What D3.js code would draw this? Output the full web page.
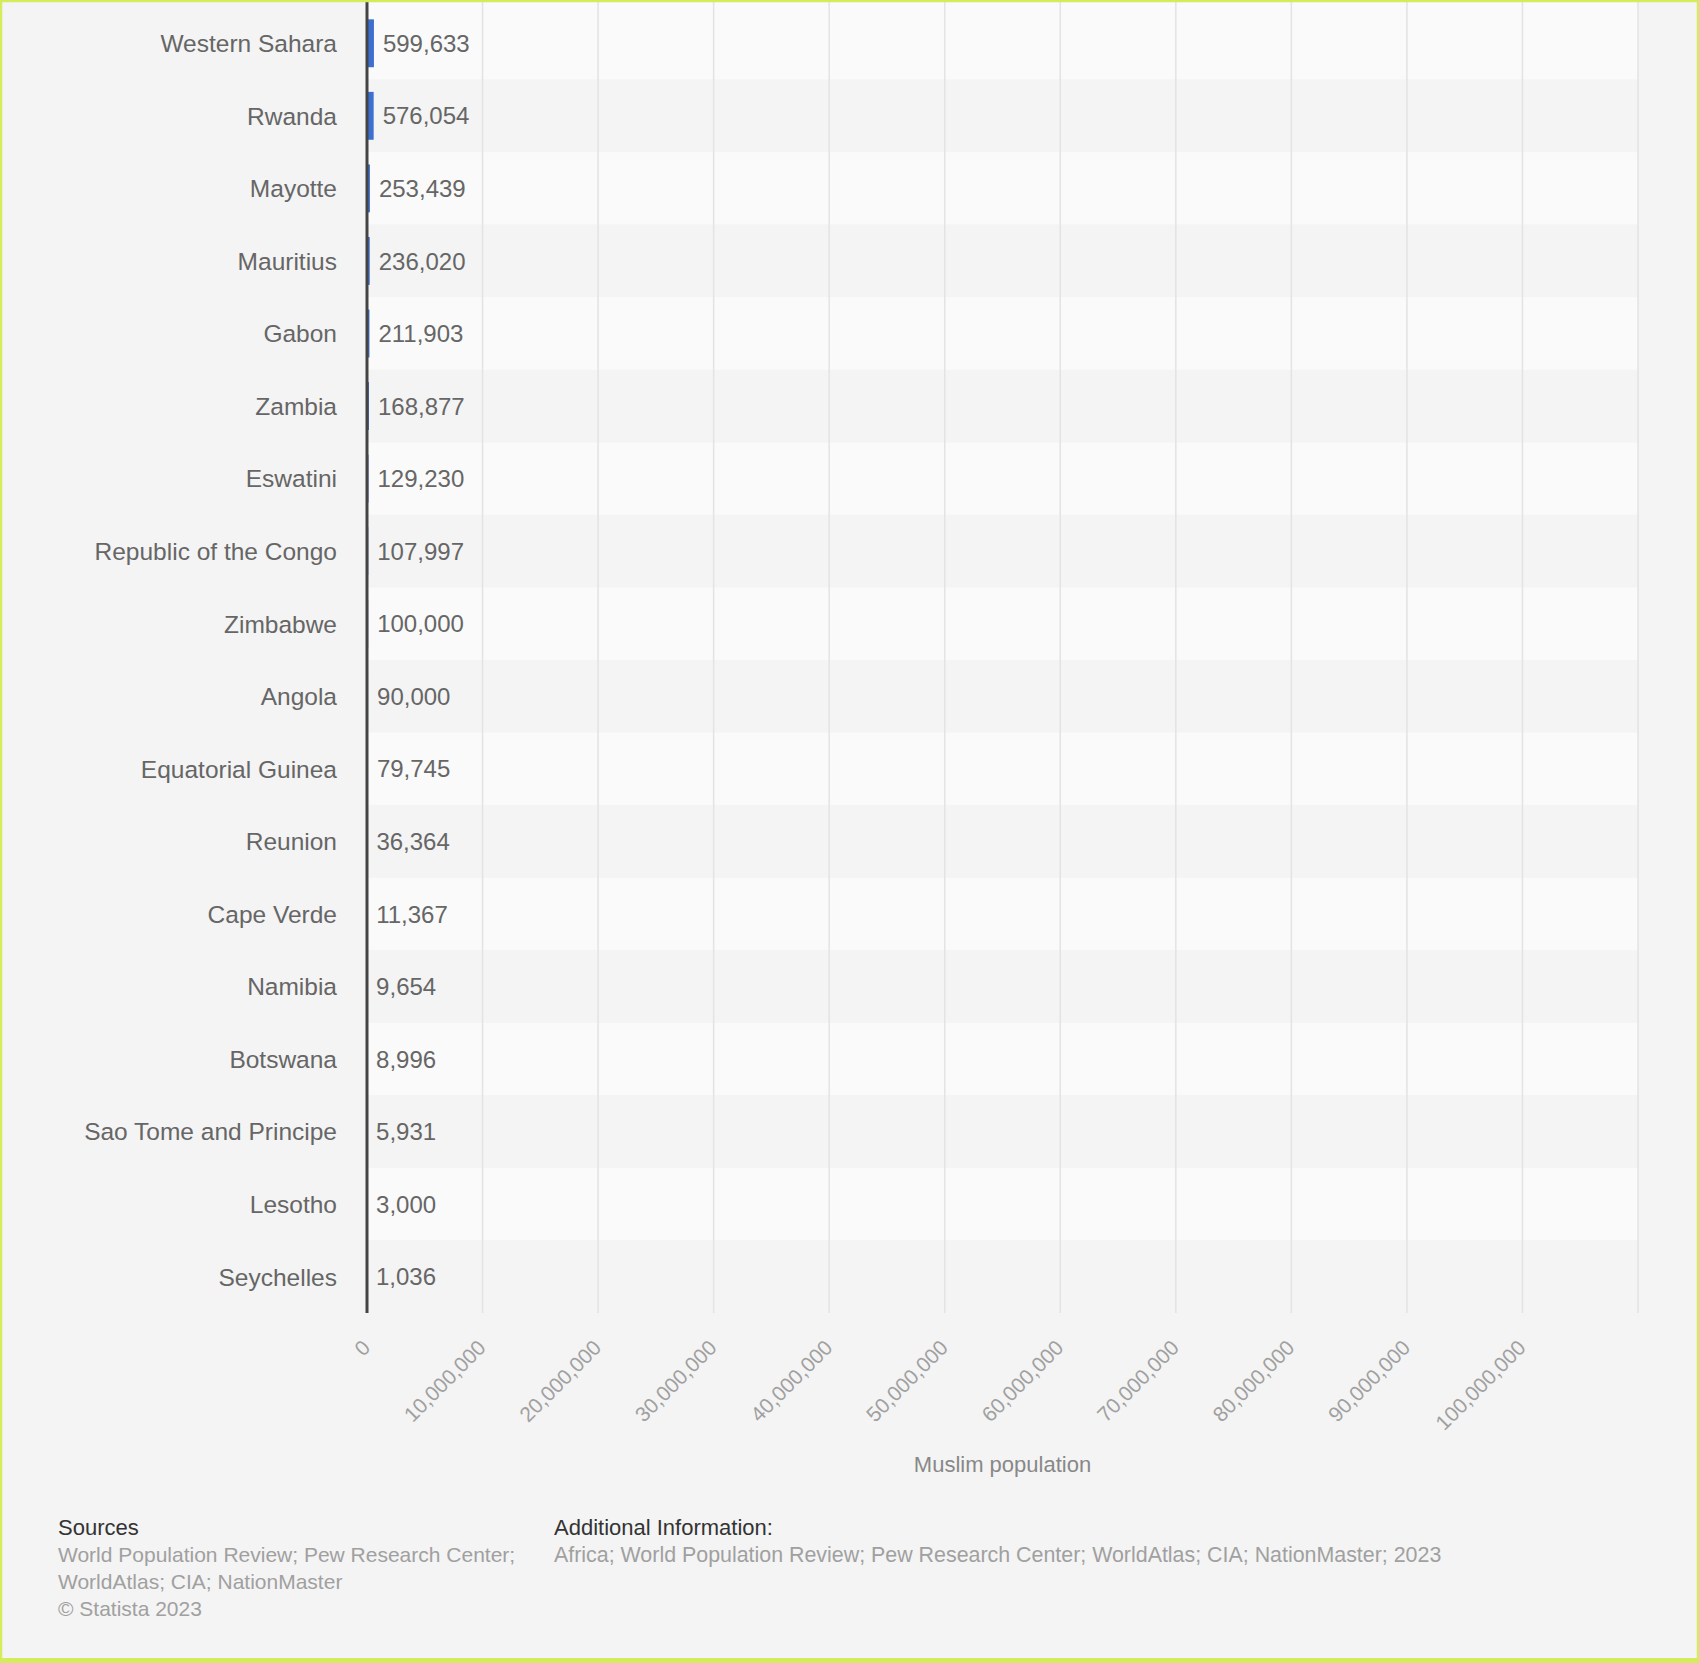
<!DOCTYPE html>
<html>
<head>
<meta charset="utf-8">
<script src="https://cdn.jsdelivr.net/npm/d3@7"></script>
<style>
  body { margin: 0; background: #f4f4f4; }
  svg { display: block; }
</style>
</head>
<body>
<div id="chart"></div>
<script>
/* ------------------------- Data ------------------------- */
var countries = ["Western Sahara", "Rwanda", "Mayotte", "Mauritius", "Gabon", "Zambia",
    "Eswatini", "Republic of the Congo", "Zimbabwe", "Angola", "Equatorial Guinea",
    "Reunion", "Cape Verde", "Namibia", "Botswana", "Sao Tome and Principe", "Lesotho", "Seychelles"];
var muslims = [599633, 576054, 253439, 236020, 211903, 168877, 129230, 107997, 100000,
    90000, 79745, 36364, 11367, 9654, 8996, 5931, 3000, 1036];
var tickValues = [0, 10000000, 20000000, 30000000, 40000000, 50000000, 60000000,
    70000000, 80000000, 90000000, 100000000];
var xMax = 110000000;
var xTitle = "Muslim population";
var sourcesText = ["World Population Review; Pew Research Center;", "WorldAtlas; CIA; NationMaster", "© Statista 2023"];
var infoText = "Africa; World Population Review; Pew Research Center; WorldAtlas; CIA; NationMaster; 2023";

/* ------------------------- Layout ------------------------- */
var W = 1699, H = 1663,
    margin = {top: 7, left: 367},
    width = 1638 - margin.left,
    height = 1313 - margin.top,
    fontFamily = "'Liberation Sans', Arial, sans-serif";

var svg = d3.select("#chart").append("svg")
    .attr("width", W)
    .attr("height", H);

svg.append("rect").attr("width", W).attr("height", H).attr("fill", "#f4f4f4");

var chart = svg.append("g")
    .attr("transform", "translate(" + margin.left + "," + margin.top + ")");

var x = d3.scaleLinear().domain([0, xMax]).range([0, width]);
var y = d3.scaleBand().domain(countries).range([0, height]).paddingInner(0.34).paddingOuter(0.17);
var band = d3.scaleBand().domain(countries).range([0, height]);

/* Alternating row stripes */
chart.append("g").selectAll("rect")
    .data(countries)
    .enter().append("rect")
    .attr("x", 0)
    .attr("y", function(d, i) { return i === 0 ? -margin.top : band(d); })
    .attr("width", width)
    .attr("height", function(d, i) { return band.bandwidth() + (i === 0 ? margin.top : 0); })
    .attr("fill", function(d, i) { return i % 2 === 0 ? "#fafafa" : "#f4f4f4"; });

/* Gridlines */
chart.append("g").selectAll("line")
    .data(tickValues.concat([xMax]).slice(1))
    .enter().append("line")
    .attr("x1", function(d) { return x(d); })
    .attr("x2", function(d) { return x(d); })
    .attr("y1", -margin.top)
    .attr("y2", height)
    .attr("stroke", "#e3e3e3")
    .attr("stroke-width", 1.5);

/* Bars */
chart.append("g").selectAll("rect")
    .data(muslims)
    .enter().append("rect")
    .attr("x", 0)
    .attr("y", function(d, i) { return y(countries[i]); })
    .attr("width", function(d) { return x(d); })
    .attr("height", y.bandwidth())
    .attr("fill", "#3c6fd0");

/* Value labels */
chart.append("g").selectAll("text")
    .data(muslims)
    .enter().append("text")
    .attr("x", function(d) { return x(d) + 9; })
    .attr("y", function(d, i) { return band(countries[i]) + band.bandwidth() / 2; })
    .attr("dy", "0.36em")
    .attr("font-family", fontFamily)
    .attr("font-size", 24)
    .attr("fill", "#666")
    .text(function(d) { return d3.format(",")(d); });

/* Category labels */
chart.append("g").selectAll("text")
    .data(countries)
    .enter().append("text")
    .attr("x", -30)
    .attr("y", function(d) { return band(d) + band.bandwidth() / 2; })
    .attr("dy", "0.36em")
    .attr("text-anchor", "end")
    .attr("font-family", fontFamily)
    .attr("font-size", 24.5)
    .attr("fill", "#666")
    .text(function(d) { return d; });

/* Zero axis line */
chart.append("line")
    .attr("x1", 0).attr("x2", 0)
    .attr("y1", -margin.top).attr("y2", height)
    .attr("stroke", "#444")
    .attr("stroke-width", 3);

/* X axis */
var xAxis = d3.axisBottom(x)
    .tickValues(tickValues)
    .tickSize(0)
    .tickFormat(d3.format(","));

var gx = chart.append("g")
    .attr("transform", "translate(0," + height + ")")
    .call(xAxis);
gx.select(".domain").remove();
gx.selectAll("text")
    .attr("y", 0)
    .attr("dy", 0)
    .attr("text-anchor", "end")
    .attr("transform", "translate(4,36) rotate(-45)")
    .attr("font-family", fontFamily)
    .attr("font-size", 21)
    .attr("fill", "#a0a0a0");

/* Axis title */
chart.append("text")
    .attr("x", width / 2)
    .attr("y", 1464 - margin.top)
    .attr("dy", "0.36em")
    .attr("text-anchor", "middle")
    .attr("font-family", fontFamily)
    .attr("font-size", 22)
    .attr("fill", "#888")
    .text(xTitle);

/* ------------------------- Footer ------------------------- */
svg.append("text")
    .attr("x", 58).attr("y", 1535)
    .attr("font-family", fontFamily).attr("font-size", 22).attr("fill", "#333")
    .text("Sources");

svg.append("g").selectAll("text")
    .data(sourcesText)
    .enter().append("text")
    .attr("x", 58)
    .attr("y", function(d, i) { return 1562 + i * 27; })
    .attr("font-family", fontFamily).attr("font-size", 21).attr("fill", "#a0a0a0")
    .text(function(d) { return d; });

svg.append("text")
    .attr("x", 554).attr("y", 1535)
    .attr("font-family", fontFamily).attr("font-size", 22).attr("fill", "#333")
    .text("Additional Information:");

svg.append("text")
    .attr("x", 554).attr("y", 1562)
    .attr("font-family", fontFamily).attr("font-size", 21.4).attr("fill", "#a0a0a0")
    .text(infoText);

/* Border */
svg.append("rect")
    .attr("x", 1).attr("y", 1)
    .attr("width", W - 2).attr("height", H - 4)
    .attr("fill", "none")
    .attr("stroke", "#d4ec5c")
    .attr("stroke-width", 2.5);
svg.append("rect")
    .attr("x", 0).attr("y", H - 5)
    .attr("width", W).attr("height", 5)
    .attr("fill", "#d4ec5c");
</script>
</body>
</html>
